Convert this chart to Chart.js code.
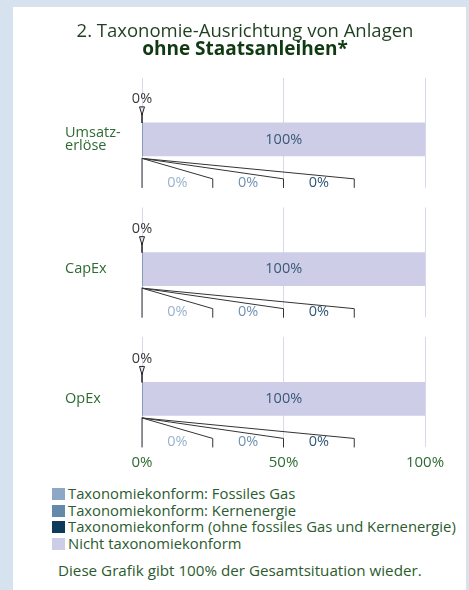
<!DOCTYPE html>
<html>
<head>
<meta charset="utf-8">
<script src="https://cdn.jsdelivr.net/npm/chart.js@4/dist/chart.umd.min.js"></script>
<style>
  html, body { margin: 0; padding: 0; }
  body { width: 469px; height: 590px; background: #d6e3ef; position: relative; overflow: hidden; font-family: "Open Sans", "Noto Sans", sans-serif; }
  #panel { position: absolute; left: 13px; top: 7px; width: 453px; height: 590px; background: #fff; }
  #c { position: absolute; left: 0; top: 0; }
  #legend { position: absolute; left: 39px; top: 478px; font-size: 14.8px; color: #2b5b2e; }
  #legend div { height: 16.5px; line-height: 16.5px; white-space: nowrap; }
  #legend span { display: inline-block; width: 13px; height: 12px; margin-right: 3px; vertical-align: -1px; }
  #footer { position: absolute; left: 45px; top: 553px; font-size: 15.2px; color: #2b5b2e; white-space: nowrap; }
</style>
</head>
<body>
<div id="panel">
  <canvas id="c" width="453" height="471"></canvas>
  <div id="legend"></div>
  <div id="footer">Diese Grafik gibt 100% der Gesamtsituation wieder.</div>
</div>
<script>
const categories = [['Umsatz-', 'erlöse'], 'CapEx', 'OpEx'];
const fossilGas = [0, 0, 0];
const nuclear = [0, 0, 0];
const alignedOther = [0, 0, 0];
const notAligned = [100, 100, 100];
const alignedTotal = [0, 0, 0];
const xTicks = [0, 50, 100];

const seriesLabels = [
  'Taxonomiekonform: Fossiles Gas',
  'Taxonomiekonform: Kernenergie',
  'Taxonomiekonform (ohne fossiles Gas und Kernenergie)',
  'Nicht taxonomiekonform'
];
const seriesColors = ['#8ca8c4', '#6489aa', '#0d3b59', '#cdcde7'];
const labelColors = ['#9ab2cc', '#6f92b2', '#2f5775'];

const font = '"Open Sans", "Noto Sans", sans-serif';
const green = '#2e6b32';
const barThickness = 33;

// bars sit on a numeric index axis so the gap under the last group can differ
const toPoints = arr => arr.map((v, i) => ({ x: v, y: i }));

// callout labels for the small values, plus value labels inside the big bar
const callouts = {
  id: 'callouts',
  afterDatasetsDraw(chart) {
    const ctx = chart.ctx;
    const x = chart.scales.x;
    const x0 = x.getPixelForValue(0);
    const small = [fossilGas, nuclear, alignedOther];
    const bigMeta = chart.getDatasetMeta(3);
    ctx.save();
    ctx.font = '14.5px ' + font;
    ctx.textAlign = 'center';
    ctx.textBaseline = 'middle';
    bigMeta.data.forEach((el, i) => {
      const top = el.y - el.height / 2;
      const bottom = el.y + el.height / 2;

      // value in bar
      ctx.fillStyle = '#3a5878';
      ctx.fillText(notAligned[i] + '%', (el.x + el.base) / 2, el.y);

      // upper callout
      ctx.fillStyle = '#3a3a3a';
      ctx.fillText(alignedTotal[i] + '%', x0, top - 24);
      ctx.strokeStyle = '#222';
      ctx.lineWidth = 1;
      ctx.fillStyle = '#e8e8f0';
      ctx.beginPath();
      ctx.moveTo(x0 - 2.5, top - 16);
      ctx.lineTo(x0 + 2.5, top - 16);
      ctx.lineTo(x0, top - 8);
      ctx.closePath();
      ctx.fill();
      ctx.stroke();
      ctx.lineWidth = 1.5;
      ctx.beginPath();
      ctx.moveTo(x0, top - 10);
      ctx.lineTo(x0, top);
      ctx.stroke();

      // lower callouts
      ctx.lineWidth = 1;
      ctx.strokeStyle = '#333';
      ctx.beginPath();
      ctx.moveTo(x0, bottom + 2);
      ctx.lineTo(x0, bottom + 32);
      ctx.stroke();
      small.forEach((arr, k) => {
        const xe = x.getPixelForValue(25 * (k + 1));
        ctx.beginPath();
        ctx.moveTo(x0, bottom + 2.5);
        ctx.lineTo(xe, bottom + 23);
        ctx.lineTo(xe, bottom + 32);
        ctx.stroke();
        ctx.fillStyle = labelColors[k];
        ctx.fillText(arr[i] + '%', x.getPixelForValue(12.5 + 25 * k), bottom + 26.5);
      });
    });
    ctx.restore();
  }
};

new Chart(document.getElementById('c'), {
  type: 'bar',
  data: {
    datasets: [
      { label: seriesLabels[0], data: toPoints(fossilGas), backgroundColor: seriesColors[0] },
      { label: seriesLabels[1], data: toPoints(nuclear), backgroundColor: seriesColors[1] },
      { label: seriesLabels[2], data: toPoints(alignedOther), backgroundColor: seriesColors[2] },
      { label: seriesLabels[3], data: toPoints(notAligned), backgroundColor: seriesColors[3] }
    ]
  },
  options: {
    indexAxis: 'y',
    responsive: false,
    animation: false,
    barThickness: barThickness,
    layout: { padding: { left: 52, right: 41, top: 0, bottom: 0 } },
    plugins: {
      legend: { display: false },
      tooltip: { enabled: false },
      title: {
        display: true,
        text: '2. Taxonomie-Ausrichtung von Anlagen',
        color: '#1f3f20',
        font: { family: font, size: 18.5, weight: 'normal', lineHeight: 1 },
        padding: { top: 15, bottom: 0 }
      },
      subtitle: {
        display: true,
        text: 'ohne Staatsanleihen*',
        color: '#0f3a12',
        font: { family: font, size: 19, weight: 'bold', lineHeight: 1 },
        padding: { top: 0, bottom: 15 }
      }
    },
    scales: {
      x: {
        stacked: true,
        min: 0,
        max: 100,
        afterBuildTicks(scale) { scale.ticks = xTicks.map(v => ({ value: v })); },
        afterFit(scale) { scale.height = 30; },
        ticks: {
          padding: 6,
          color: green,
          font: { family: font, size: 15 },
          callback: v => v + '%'
        },
        grid: { color: '#d8d8ec', lineWidth: 1, drawTicks: false, borderDash: [110, 19.5], borderDashOffset: 126.1 },
        border: { display: false, dash: [110, 19.5], dashOffset: 126.1 }
      },
      y: {
        type: 'linear',
        stacked: true,
        reverse: true,
        offset: false,
        min: -0.5,
        max: 2.378,
        afterBuildTicks(scale) { scale.ticks = categories.map((c, i) => ({ value: i })); },
        afterFit(scale) { scale.width = 77; },
        grid: { display: false, offset: false },
        border: { display: false },
        ticks: {
          crossAlign: 'far',
          color: green,
          font: { family: font, size: 14.5, lineHeight: 0.9 },
          callback: v => categories[v]
        }
      }
    }
  },
  plugins: [callouts]
});

const legend = document.getElementById('legend');
seriesLabels.forEach((t, i) => {
  const row = document.createElement('div');
  row.innerHTML = '<span style="background:' + seriesColors[i] + '"></span>' + t;
  legend.appendChild(row);
});
</script>
</body>
</html>
